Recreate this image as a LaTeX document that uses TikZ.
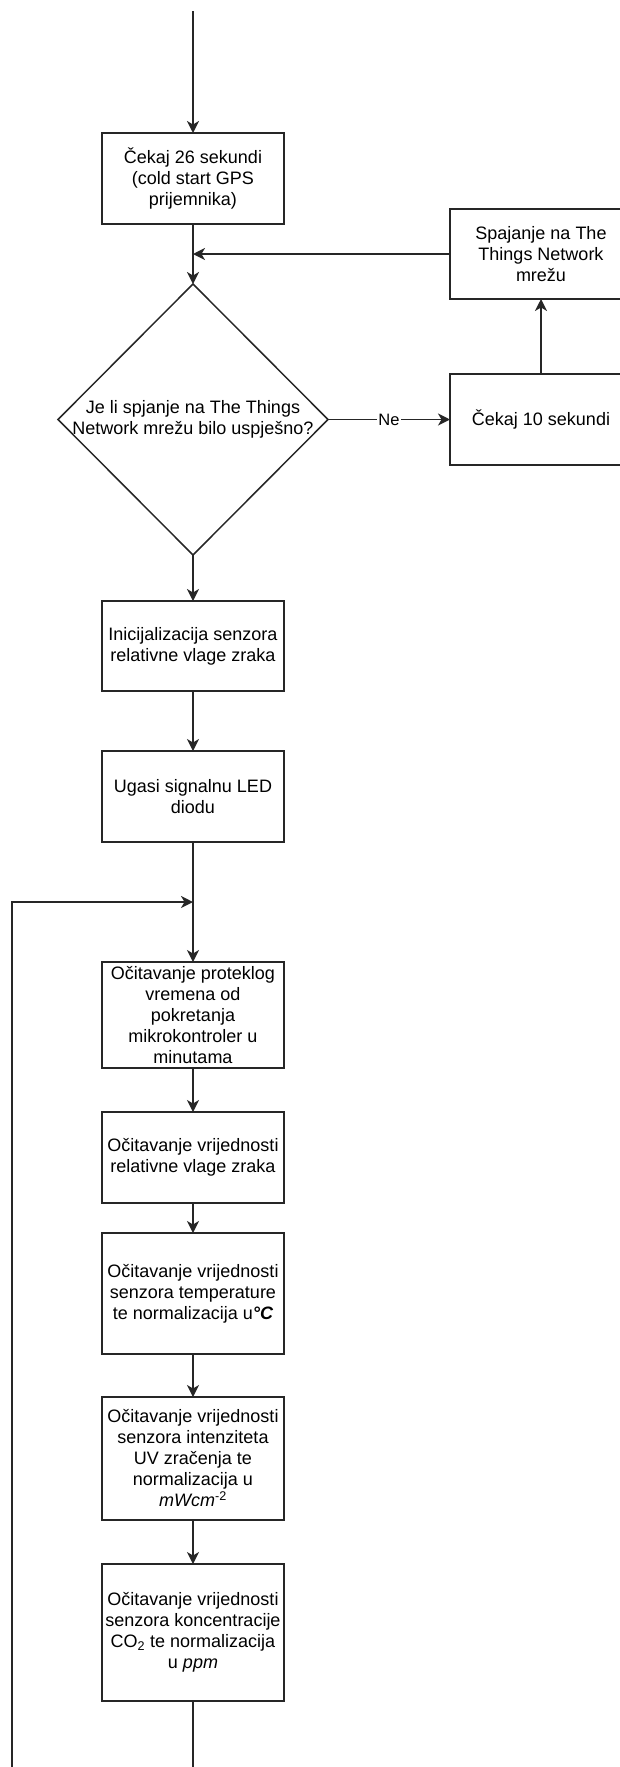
\documentclass[tikz,border=0pt]{standalone}
\usepackage{fontspec}
\setmainfont{Liberation Sans}
\usetikzlibrary{positioning,shapes.geometric,arrows.meta}

\begin{document}
\begin{tikzpicture}[x=1pt,y=-1pt,
					font=\fontsize{18}{21}\selectfont,
					blok/.style={rectangle,
					draw=black!85,
					line width=1.5pt,
					align=center,
					inner sep=1pt,
					outer sep=0pt,
					minimum width=182pt,
					minimum height=91pt},
					odluka/.style={diamond,
					draw=black!85,
					line width=1.5pt,
					inner sep=0pt,
					outer sep=0pt,
					minimum width=270pt,
					minimum height=271pt},
					veza/.style={line width=1.5pt,
					draw=black!85,
					-{Stealth[length=12pt,width=12pt,inset=3.5pt]}},
					linija/.style={line width=1.5pt,
					draw=black!85}
					]

% only a part of the whole chart is shown, so crop it
\path[use as bounding box, clip] (0,0) rectangle (620,1767);

%start nodes
\coordinate (pocetak) at (193,11);
\node[blok] (cekaj26) at (193,178.5) {Čekaj 26 sekundi\\(cold start GPS\\prijemnika)};
\node[odluka] (provjera) [below=60pt of cekaj26] {};
\node (provjeraTekst) [align=center] at (provjera.center) {Je li spjanje na The Things\\Network mrežu bilo uspješno?};

%retry nodes
\node[blok] (cekaj10) [right=122pt of provjera] {Čekaj 10 sekundi};
\node[blok, minimum height=90pt] (spajanje) [above=75pt of cekaj10] {Spajanje na The\\Things Network\\mrežu};

%setup nodes
\node[blok, minimum height=90pt] (inic) [below=46pt of provjera] {Inicijalizacija senzora\\relativne vlage zraka};
\node[blok] (ugasi) [below=60pt of inic] {Ugasi signalnu LED\\diodu};

%loop nodes
\node[blok, minimum height=106pt] (protekli) [below=120pt of ugasi] {Očitavanje proteklog\\vremena od\\pokretanja\\mikrokontroler u\\minutama};
\node[blok] (vlaga) [below=44pt of protekli] {Očitavanje vrijednosti\\relativne vlage zraka};
\node[blok, minimum height=121pt] (temp) [below=30pt of vlaga] {Očitavanje vrijednosti\\senzora temperature\\te normalizacija u\textit{\textbf{°C}}};
\node[blok, minimum height=123pt] (uv) [below=43pt of temp] {Očitavanje vrijednosti\\senzora intenziteta\\UV zračenja te\\normalizacija u\\\textit{mWcm}\textsuperscript{-2}};
\node[blok, minimum height=137pt] (co2) [below=44pt of uv] {Očitavanje vrijednosti\\senzora koncentracije\\CO\textsubscript{2} te normalizacija\\u \textit{ppm}};

%free ends
\coordinate (spoj) at (spajanje.west -| cekaj26.south);
\coordinate[below=60pt of ugasi.south] (petlja);
\coordinate (lijevo) at (12,1767);
\coordinate (kraj) at (193,1767);

%paths
\draw[veza] (pocetak) -- (cekaj26);
\draw[veza] (cekaj26) -- (provjera);
\draw[veza] (provjera) -- node[fill=white, inner sep=1pt, font=\fontsize{16.5}{19}\selectfont] (ne) {Ne} (cekaj10);
\draw[veza] (cekaj10) -- (spajanje);
\draw[veza] (spajanje.west) -- (spoj);
\draw[veza] (provjera) -- (inic);
\draw[veza] (inic) -- (ugasi);
\draw[veza] (ugasi) -- (protekli);
\draw[veza] (protekli) -- (vlaga);
\draw[veza] (vlaga) -- (temp);
\draw[veza] (temp) -- (uv);
\draw[veza] (uv) -- (co2);
\draw[linija] (co2) -- (kraj);

%loop back
\draw[veza] (lijevo) |- (petlja);
\end{tikzpicture}
\end{document}
